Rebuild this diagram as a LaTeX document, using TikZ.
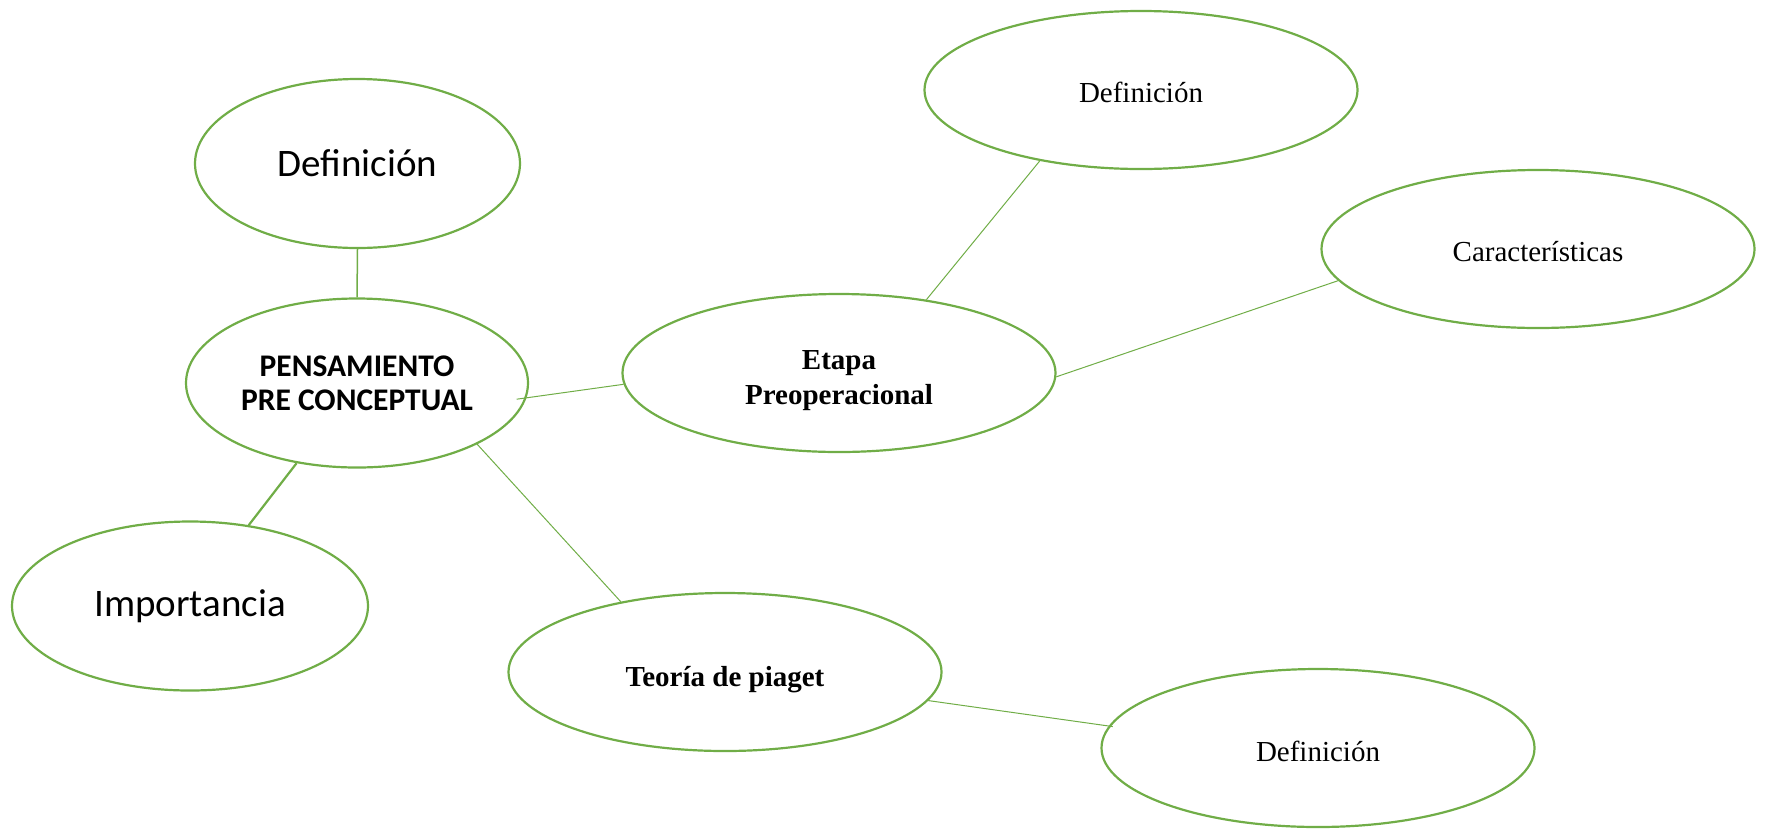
\documentclass[tikz,border=0pt]{standalone}
\usepackage{fontspec}
\setmainfont{Liberation Serif}
\newfontfamily\calibri{Carlito}
\usetikzlibrary{shapes.geometric}
\definecolor{leaf}{HTML}{70AD47}

\begin{document}
\begin{tikzpicture}[x=1pt, y=-1pt,
  bubble/.style={ellipse, draw=leaf, line width=2.2pt, inner sep=0pt, align=center,
                 minimum width=433pt, minimum height=158pt,
                 font=\fontsize{29}{35}\selectfont},
  sansbubble/.style={bubble, font=\calibri\fontsize{39}{45}\selectfont},
  serifcaption/.style={align=center, inner sep=0pt, font=\fontsize{29}{35}\selectfont},
  boldcaption/.style={serifcaption, font=\bfseries\fontsize{29}{35}\selectfont, yshift=-8pt},
  thinlink/.style={draw=leaf, line width=1pt},
  midlink/.style={draw=leaf, line width=1.5pt},
  thicklink/.style={draw=leaf, line width=2.2pt}]

  \useasboundingbox (0,0) rectangle (1768,828);

  % central concept and its left-hand branches
  \node[sansbubble, minimum width=325pt, minimum height=169pt] (deftl) at (357.5,163.5) {Definición};
  \node[bubble, minimum width=342pt, minimum height=169pt,
        font=\calibri\bfseries\fontsize{31.5}{34}\selectfont] (pens) at (357,383)
        {PENSAMIENTO\\PRE CONCEPTUAL};
  \node[sansbubble, minimum width=356pt, minimum height=169pt] (imp) at (190,606) {Importancia};

  % stage and theory branches
  \node[bubble, label={[boldcaption]center:{Etapa\\Preoperacional}}] (etapa) at (839,373) {};
  \node[bubble, label={[serifcaption, yshift=-2pt]center:Definición}] (deftop) at (1141,90) {};
  \node[bubble, label={[serifcaption, yshift=-3pt]center:Características}] (car) at (1538,249) {};
  \node[bubble, label={[boldcaption]center:Teoría de piaget}] (teo) at (725,672) {};
  \node[bubble, label={[serifcaption, yshift=-3pt]center:Definición}] (defbot) at (1318,748) {};

  % connectors
  \draw[midlink] (deftl.south) -- (pens.north);
  \draw[thicklink] (pens.233) -- (imp.54);
  \draw[thinlink, shorten >=-10pt] (etapa.183) -- (pens.-5);
  \draw[thinlink] (pens.-27) -- (teo.146);
  \draw[thinlink] (etapa.40) -- (deftop.215);
  \draw[thinlink] (etapa.-1) -- (car.189);
  \draw[thinlink, shorten >=-4pt] (teo.-8) -- (defbot.174);
\end{tikzpicture}
\end{document}
